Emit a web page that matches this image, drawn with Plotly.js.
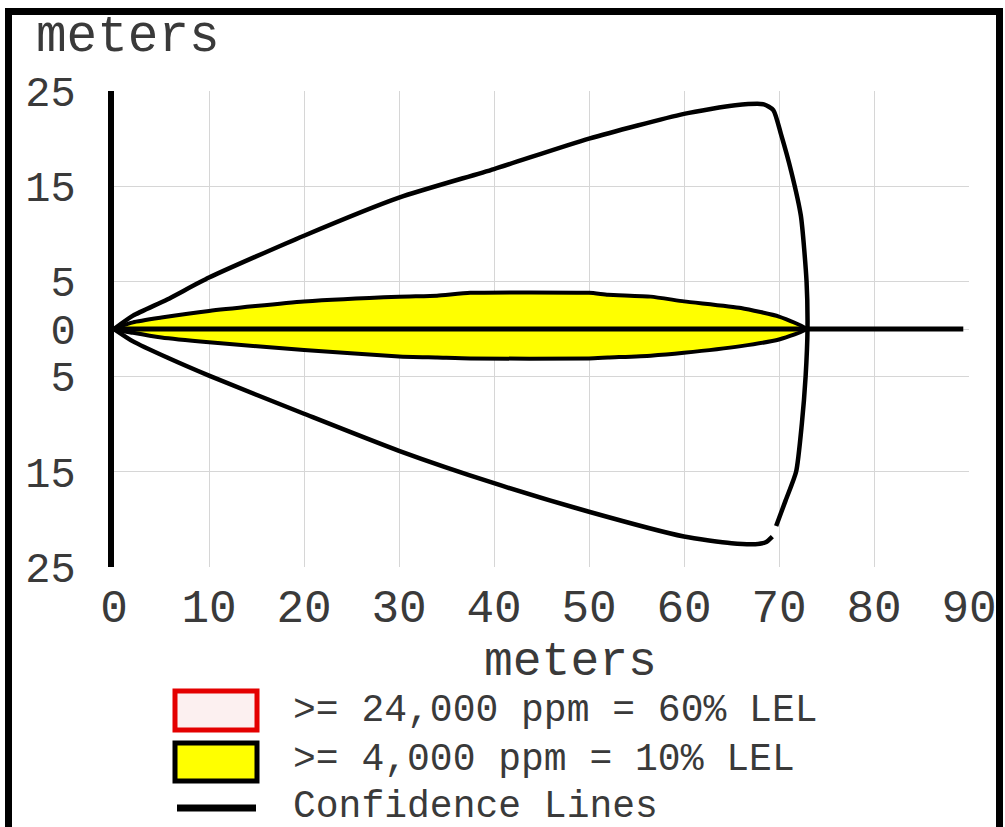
<!DOCTYPE html>
<html>
<head>
<meta charset="utf-8">
<script src="https://cdn.plot.ly/plotly-3.0.1.min.js"></script>
<style>
  html, body { margin: 0; padding: 0; background: #fff; }
  #chart { position: absolute; left: 0; top: 0; width: 1005px; height: 827px; }
  #frame { position: absolute; left: 5px; top: 8px; width: 998px; height: 840px;
           border: 7px solid #000; border-bottom: none; box-sizing: border-box; pointer-events: none; }
</style>
</head>
<body>
<div id="chart"></div>
<div id="frame"></div>
<script>
// ---- data (meters) ----
// Confidence lines: upper curve + closing arc
const confUpperX = [0, 2, 5.6, 10, 20, 30, 40, 50, 60, 65.4, 68.4, 69.4, 70.2, 71.3, 72.3, 72.9, 73.0, 72.8, 72.4, 71.8, 70.7, 69.7];
const confUpperY = [0, 1.4, 3.1, 5.4, 9.8, 13.8, 16.8, 20.0, 22.6, 23.5, 23.6, 23.0, 20.5, 16.5, 11.9, 5.0, 0, -5, -10, -15, -18, -20.7];
// Confidence lines: lower curve with hook
const confLowerX = [0, 2, 5.6, 10, 20, 30, 40, 50, 60, 65, 67.5, 68.6, 69.3];
const confLowerY = [0, -1.3, -3.0, -4.9, -8.9, -12.8, -16.2, -19.2, -21.8, -22.5, -22.6, -22.4, -21.8];
// >= 4,000 ppm zone (10% LEL) outline
const zone10X = [0, 2, 5, 10, 20, 30, 34, 37.5, 50, 52, 56.5, 60, 66, 70, 72.9, 70, 66, 60, 56.5, 52, 50, 37.5, 34, 30, 20, 10, 5, 2, 0];
const zone10Y = [0, 0.7, 1.2, 1.9, 2.9, 3.4, 3.5, 3.8, 3.8, 3.6, 3.4, 2.9, 2.2, 1.3, 0, -1.1, -1.8, -2.5, -2.8, -3.0, -3.1, -3.1, -3.0, -2.9, -2.2, -1.4, -0.9, -0.4, 0];
// Downwind centerline
const centerX = [0, 89.4];
const centerY = [0, 0];
// Axis ticks
const xTickVals = [0, 10, 20, 30, 40, 50, 60, 70, 80, 90];
const yTickVals = [25, 15, 5, 0, -5, -15, -25];
const yTickText = ["25", "15", "5", "0", "5", "15", "25"];
// Legend labels
const legendLabels = [">= 24,000 ppm = 60% LEL", ">= 4,000 ppm = 10% LEL", "Confidence Lines"];

// ---- layout geometry ----
const W = 1005, H = 827;
const L = 114, R = 969, T = 91, B = 567;
const px2x = p => (p - L) / (R - L);
const py2y = p => (B - p) / (B - T);
const FONT = '"Courier New", "Liberation Mono", monospace';
const TXT = '#3a3a3a';

const traces = [
  { x: zone10X, y: zone10Y, type: 'scatter', mode: 'lines', fill: 'toself',
    fillcolor: '#ffff00', line: { color: '#000', width: 4, shape: 'spline', smoothing: 0.5 }, hoverinfo: 'skip', showlegend: false },
  { x: centerX, y: centerY, type: 'scatter', mode: 'lines',
    line: { color: '#000', width: 5 }, hoverinfo: 'skip', showlegend: false },
  { x: confUpperX, y: confUpperY, type: 'scatter', mode: 'lines',
    line: { color: '#000', width: 4.5, shape: 'spline', smoothing: 0.6 }, hoverinfo: 'skip', showlegend: false },
  { x: confLowerX, y: confLowerY, type: 'scatter', mode: 'lines',
    line: { color: '#000', width: 4.5, shape: 'spline', smoothing: 0.6 }, hoverinfo: 'skip', showlegend: false }
];

const shapes = [
  { type: 'rect', xref: 'paper', yref: 'paper', x0: px2x(175), x1: px2x(257), y0: py2y(730), y1: py2y(691),
    line: { color: '#e40000', width: 5 }, fillcolor: '#fcf0f0' },
  { type: 'rect', xref: 'paper', yref: 'paper', x0: px2x(175), x1: px2x(257), y0: py2y(781), y1: py2y(743),
    line: { color: '#000', width: 5 }, fillcolor: '#ffff00' },
  { type: 'line', xref: 'paper', yref: 'paper', x0: px2x(177), x1: px2x(256), y0: py2y(808), y1: py2y(808),
    line: { color: '#000', width: 7 } }
];

const annotations = [
  { text: 'meters', xref: 'paper', yref: 'paper', x: px2x(34), y: py2y(38), xanchor: 'left', yanchor: 'middle',
    showarrow: false, font: { family: FONT, size: 51, color: TXT } },
  { text: 'meters', xref: 'paper', yref: 'paper', x: px2x(570), y: py2y(662), xanchor: 'center', yanchor: 'middle',
    showarrow: false, font: { family: FONT, size: 48, color: TXT } },
  { text: legendLabels[0], xref: 'paper', yref: 'paper', x: px2x(291), y: py2y(710), xanchor: 'left', yanchor: 'middle',
    showarrow: false, font: { family: FONT, size: 38, color: TXT } },
  { text: legendLabels[1], xref: 'paper', yref: 'paper', x: px2x(291), y: py2y(759), xanchor: 'left', yanchor: 'middle',
    showarrow: false, font: { family: FONT, size: 38, color: TXT } },
  { text: legendLabels[2], xref: 'paper', yref: 'paper', x: px2x(291), y: py2y(806), xanchor: 'left', yanchor: 'middle',
    showarrow: false, font: { family: FONT, size: 38, color: TXT } }
];

const layout = {
  width: W, height: H,
  margin: { l: L, r: W - R, t: T, b: H - B, pad: 0 },
  paper_bgcolor: '#fff', plot_bgcolor: '#fff',
  showlegend: false,
  xaxis: {
    range: [0, 90], tickvals: xTickVals, ticks: '', showgrid: true, gridcolor: '#d6d6d6', gridwidth: 1,
    zeroline: false, showline: false, ticklabelstandoff: 8,
    tickfont: { family: FONT, size: 46, color: TXT }, fixedrange: true
  },
  yaxis: {
    range: [-25, 25], tickvals: yTickVals, ticktext: yTickText, ticks: '', showgrid: true,
    gridcolor: '#d6d6d6', gridwidth: 1, zeroline: false,
    showline: true, linecolor: '#000', linewidth: 6, ticklabelstandoff: 24,
    tickfont: { family: FONT, size: 42, color: TXT }, fixedrange: true
  },
  shapes: shapes,
  annotations: annotations
};

Plotly.newPlot('chart', traces, layout, { displayModeBar: false, staticPlot: true });
</script>
</body>
</html>
